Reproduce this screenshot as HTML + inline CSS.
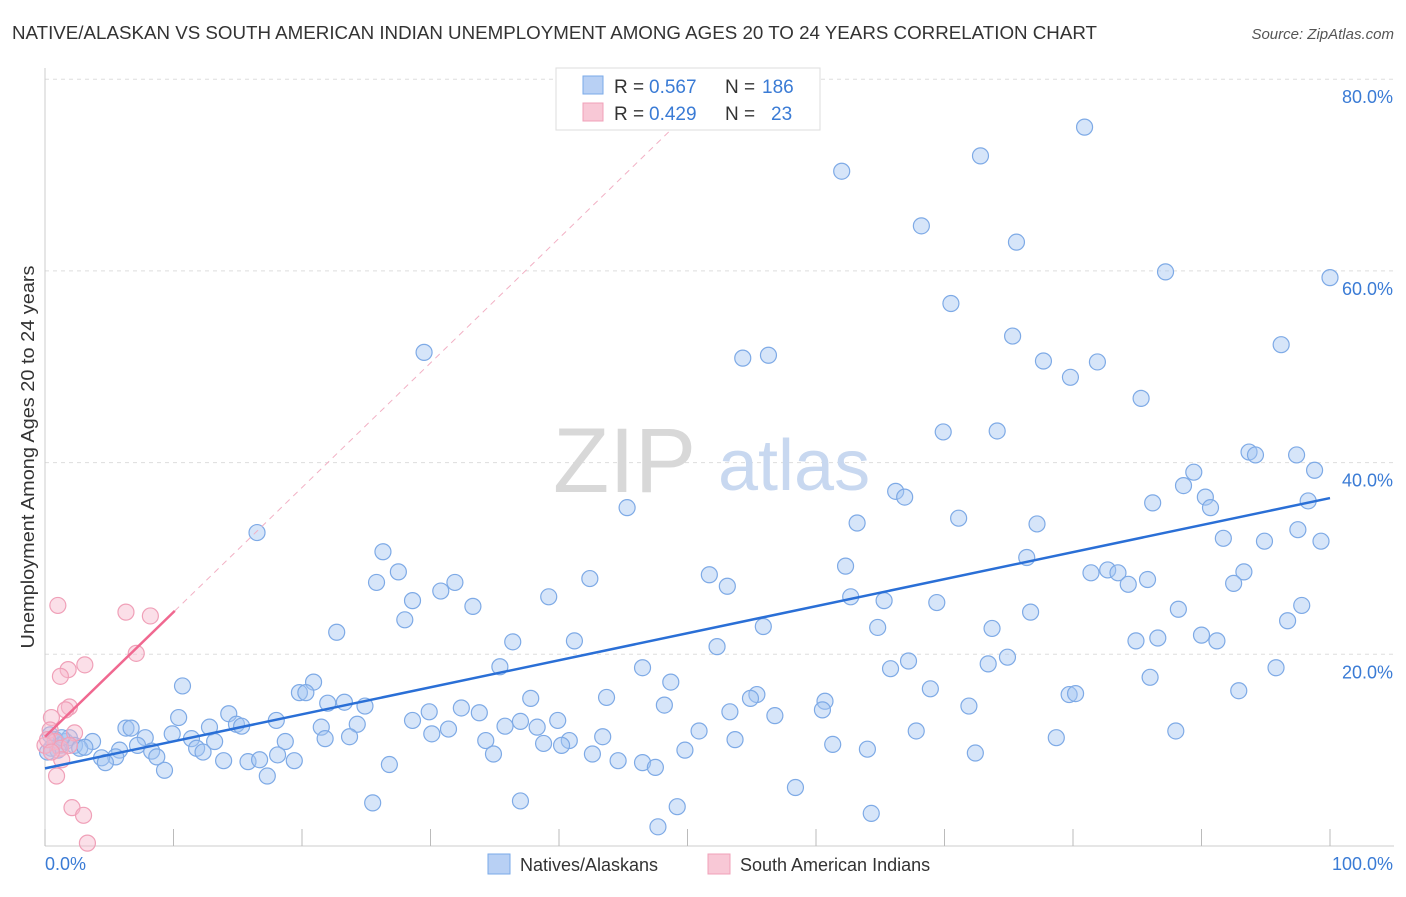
<!DOCTYPE html>
<html><head><meta charset="utf-8"><style>
body{margin:0;background:#fff;font-family:"Liberation Sans",sans-serif;}
svg text{font-family:"Liberation Sans",sans-serif;}
</style></head><body>
<svg id="chart" width="1406" height="892" viewBox="0 0 1406 892" xmlns="http://www.w3.org/2000/svg">
<text x="12" y="39" font-size="18" fill="#333" textLength="1085" lengthAdjust="spacingAndGlyphs">NATIVE/ALASKAN VS SOUTH AMERICAN INDIAN UNEMPLOYMENT AMONG AGES 20 TO 24 YEARS CORRELATION CHART</text>
<text x="1394" y="39" font-size="15" fill="#555" text-anchor="end" font-style="italic">Source: ZipAtlas.com</text>
<g id="grid"></g>
<text x="553" y="492" font-size="92" fill="#d8d8d8" font-family="Liberation Serif,serif">ZIP</text>
<text x="718" y="490" font-size="72" fill="#c8d8f0">atlas</text>
<text transform="translate(34,457) rotate(-90)" font-size="18" fill="#333" text-anchor="middle" textLength="383" lengthAdjust="spacingAndGlyphs">Unemployment Among Ages 20 to 24 years</text>
<g id="points"></g>
<g id="lines"></g>
<g>
<rect x="556" y="68" width="264" height="62" fill="#fff" stroke="#ddd"/>
<rect x="583" y="76" width="20" height="18" fill="#b8d0f4" stroke="#7aaae8"/>
<rect x="583" y="103" width="20" height="18" fill="#f8c8d6" stroke="#f0a0b8"/>
<text x="614" y="93" font-size="19" fill="#333">R =</text>
<text x="649" y="93" font-size="19" fill="#3a7bd5">0.567</text>
<text x="725" y="93" font-size="19" fill="#333">N =</text>
<text x="762" y="93" font-size="19" fill="#3a7bd5">186</text>
<text x="614" y="120" font-size="19" fill="#333">R =</text>
<text x="649" y="120" font-size="19" fill="#3a7bd5">0.429</text>
<text x="725" y="120" font-size="19" fill="#333">N =</text>
<text x="771" y="120" font-size="19" fill="#3a7bd5">23</text>
</g>
<g>
<rect x="488" y="854" width="22" height="20" fill="#b8d0f4" stroke="#7aaae8"/>
<text x="520" y="871" font-size="18" fill="#333">Natives/Alaskans</text>
<rect x="708" y="854" width="22" height="20" fill="#f8c8d6" stroke="#f0a0b8"/>
<text x="740" y="871" font-size="18" fill="#333">South American Indians</text>
</g>
</svg>
<script>
const yTicks=[20,40,60,80];
const yTickLabels=["20.0%","40.0%","60.0%","80.0%"];
const xTicks=[0,10,20,30,40,50,60,70,80,90,100];
const blueX=[80.9,62.0,72.8,68.2,75.6,87.2,100,70.5,29.5,54.3,56.3,75.3,77.7,79.8,81.9,96.2,85.3,69.9,74.1,93.7,94.2,97.4,98.8,89.4,88.6,66.2,66.9,86.2,90.3,98.3,45.3,90.7,63.2,71.1,77.2,97.5,91.7,94.9,99.3,16.5,26.3,76.4,62.3,81.4,82.7,83.5,85.8,93.3,92.5,84.3,27.5,25.8,51.7,42.4,53.1,31.9,30.8,28.6,39.2,33.3,62.7,65.3,69.4,76.7,88.2,97.8,28.0,22.7,55.9,64.8,73.7,84.9,86.6,90.0,91.2,96.7,36.4,41.2,52.3,35.4,46.5,67.2,74.9,73.4,65.8,95.8,86.0,10.7,48.7,20.9,19.8,20.3,68.9,92.9,37.8,43.7,55.4,54.9,60.7,79.7,80.2,23.3,22.0,24.9,48.2,60.5,71.9,32.4,10.4,14.3,29.9,33.8,53.3,56.8,18.0,28.6,39.9,14.9,15.3,6.3,6.7,12.8,21.5,24.3,31.4,35.8,37.0,38.3,50.9,67.8,88.0,9.9,7.8,11.4,21.8,23.7,30.1,34.3,43.4,53.7,78.7,3.7,18.7,13.2,7.2,11.8,38.8,40.8,40.2,61.3,64.0,49.8,72.4,5.8,8.3,12.3,34.9,42.6,5.5,4.4,18.1,8.7,13.9,15.8,16.7,19.4,44.6,46.5,4.7,26.8,47.5,9.3,17.3,58.4,25.5,37.0,49.2,64.3,47.7,0.4,0.8,1.2,1.6,1.9,0.5,1.0,2.3,2.7,3.1,0.2,1.3];
const blueY=[75.0,70.4,72.0,64.7,63.0,59.9,59.3,56.6,51.5,50.9,51.2,53.2,50.6,48.9,50.5,52.3,46.7,43.2,43.3,41.1,40.8,40.8,39.2,39.0,37.6,37.0,36.4,35.8,36.4,36.0,35.3,35.3,33.7,34.2,33.6,33.0,32.1,31.8,31.8,32.7,30.7,30.1,29.2,28.5,28.8,28.5,27.8,28.6,27.4,27.3,28.6,27.5,28.3,27.9,27.1,27.5,26.6,25.6,26.0,25.0,26.0,25.6,25.4,24.4,24.7,25.1,23.6,22.3,22.9,22.8,22.7,21.4,21.7,22.0,21.4,23.5,21.3,21.4,20.8,18.7,18.6,19.3,19.7,19.0,18.5,18.6,17.6,16.7,17.1,17.1,16.0,16.0,16.4,16.2,15.4,15.5,15.8,15.4,15.1,15.8,15.9,15.0,14.9,14.6,14.7,14.2,14.6,14.4,13.4,13.8,14.0,13.9,14.0,13.6,13.1,13.1,13.1,12.7,12.5,12.3,12.3,12.4,12.4,12.7,12.2,12.5,13.0,12.4,12.0,12.0,12.0,11.7,11.3,11.2,11.2,11.4,11.7,11.0,11.4,11.1,11.3,10.9,10.9,10.9,10.5,10.2,10.7,11.0,10.5,10.6,10.1,10.0,9.7,10.0,9.9,9.8,9.6,9.6,9.3,9.2,9.5,9.3,8.9,8.8,9.0,8.9,8.9,8.7,8.7,8.5,8.2,7.9,7.3,6.1,4.5,4.7,4.1,3.4,2.0,11.6,11.1,10.5,10.9,11.3,10.2,10.0,10.5,10.2,10.3,9.8,11.3];
const pinkX=[1.0,6.3,8.2,7.1,1.8,3.1,1.2,1.9,1.6,0.5,0.4,2.3,0.8,0,1.2,0.2,1.3,0.9,2.1,3.0,3.3,1.9,0.5];
const pinkY=[25.1,24.4,24.0,20.1,18.4,18.9,17.7,14.5,14.2,13.4,12.1,11.8,10.9,10.5,10.2,11.1,9.0,7.3,4.0,3.2,0.3,10.5,9.8];
const blueFit=[8.1,36.3];
const pinkFit=[11.4,1.3,10.1];

const NS="http://www.w3.org/2000/svg";
const X0=45,X1=1330,Y0=846,YPER=9.585;
function sx(v){return X0+(X1-X0)*v/100;}
function sy(v){return Y0-v*YPER;}
function mk(tag,attrs,parent){const e=document.createElementNS(NS,tag);for(const k in attrs)e.setAttribute(k,attrs[k]);parent.appendChild(e);return e;}
const gridG=document.getElementById('grid');
yTicks.forEach((t,i)=>{
  const l=mk('line',{x1:X0,x2:1394,y1:sy(t),y2:sy(t),stroke:'#ddd','stroke-dasharray':'4,4'},gridG);
  
  
  const tx=mk('text',{x:1393,y:sy(t)+24,'font-size':18,fill:'#3a7bd5','text-anchor':'end'},gridG);
  tx.textContent=yTickLabels[i];
  
  
});
const axX=mk('line',{x1:X0,x2:1394,y1:Y0,y2:Y0,stroke:'#ccc'},gridG);


const axY=mk('line',{x1:X0,x2:X0,y1:68,y2:Y0,stroke:'#ccc'},gridG);


xTicks.forEach(t=>{
  const l=mk('line',{x1:sx(t),x2:sx(t),y1:829,y2:Y0,stroke:'#bbb'},gridG);
  
  
});
const xl0=mk('text',{x:45,y:870,'font-size':18,fill:'#3a7bd5'},gridG);xl0.textContent='0.0%';


const xl1=mk('text',{x:1393,y:870,'font-size':18,fill:'#3a7bd5','text-anchor':'end'},gridG);xl1.textContent='100.0%';


const pts=document.getElementById('points');
blueX.forEach((x,i)=>{
  const c=mk('circle',{cx:sx(x),cy:sy(blueY[i]),r:8,fill:'rgba(165,198,242,0.45)',stroke:'#7eaae6','stroke-width':1.2},pts);
  
  
});
pinkX.forEach((x,i)=>{
  const c=mk('circle',{cx:sx(x),cy:sy(pinkY[i]),r:8,fill:'rgba(246,185,205,0.45)',stroke:'#f0a0b8','stroke-width':1.2},pts);
  
  
});
const ln=document.getElementById('lines');
const bl=mk('line',{x1:sx(0),y1:sy(blueFit[0]),x2:sx(100),y2:sy(blueFit[1]),stroke:'#2a6fd6','stroke-width':2.5},ln);


const pEndY=pinkFit[0]+pinkFit[1]*pinkFit[2];
const xAt80=(80-pinkFit[0])/pinkFit[1];
const pd=mk('line',{x1:sx(pinkFit[2]),y1:sy(pEndY),x2:sx(xAt80),y2:sy(80),stroke:'#f2b0c4','stroke-width':1,'stroke-dasharray':'6,5'},ln);


const pl=mk('line',{x1:sx(0),y1:sy(pinkFit[0]),x2:sx(pinkFit[2]),y2:sy(pEndY),stroke:'#f06890','stroke-width':2.5},ln);


</script>
</body></html>
